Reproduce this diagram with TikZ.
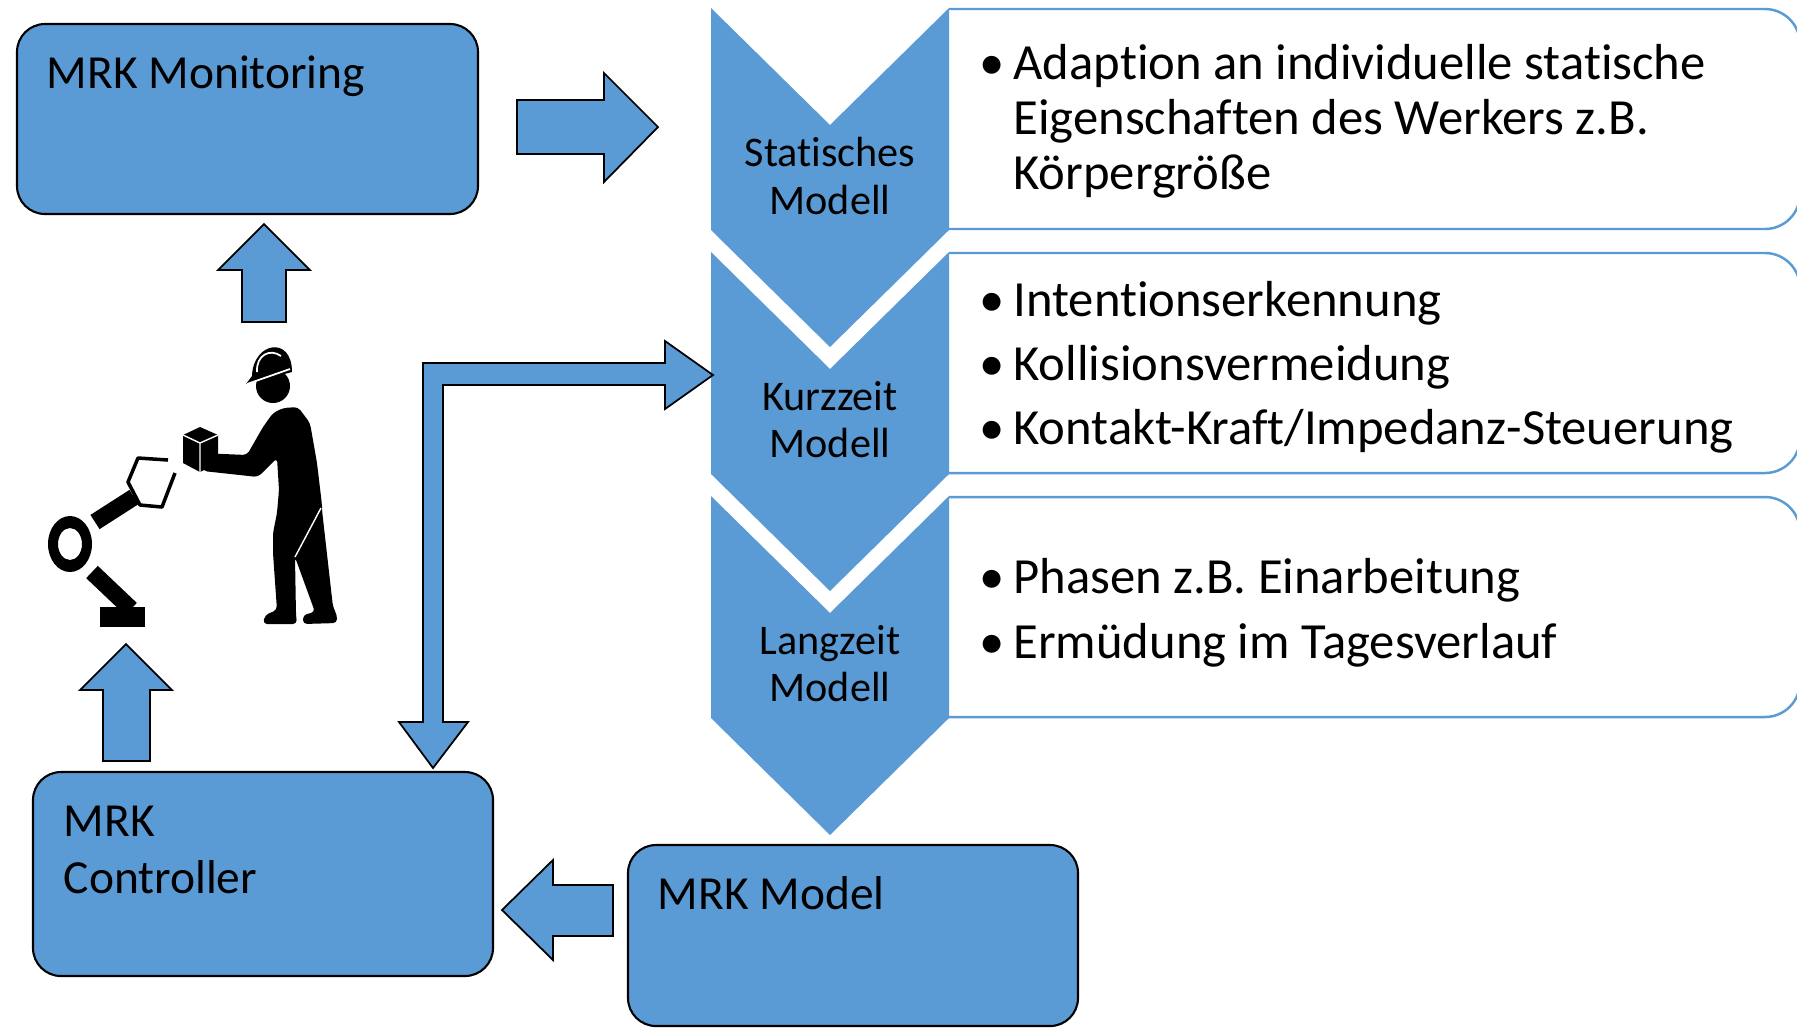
\documentclass[tikz,border=0pt]{standalone}
\usepackage{fontspec}
\setmainfont{Carlito}[Ligatures=NoCommon]
\usepackage{tikz}

\definecolor{mrkblue}{RGB}{91,155,213}
\newcommand{\bul}{\makebox[9.6pt][l]{\textbullet}}

\begin{document}
\begin{tikzpicture}[x=0.01cm, y=-0.01cm,
	panel/.style={draw=black, line width=0.6pt, fill=mrkblue, rounded corners=0.28cm},
	blockarrow/.style={draw=black, line width=0.5pt, fill=mrkblue, line join=miter},
	chevron/.style={fill=mrkblue},
	infobox/.style={draw=mrkblue, line width=0.7pt, rounded corners=0.35cm},
	title/.style={anchor=west, inner sep=0pt, align=left, font=\fontsize{13.5}{16.2}\selectfont},
	phase/.style={inner sep=0pt, align=center, font=\fontsize{12}{13.4}\selectfont},
	item/.style={anchor=west, inner sep=0pt, align=left}]
	
	\useasboundingbox (0,0) rectangle (1797,1029);
	\fill[white] (0,0) rectangle (1797,1029);
	
	% the three model phases: text box, chevron, label
	\foreach \t/\name/\lbl in {8/stat/Statisches, 252/kurz/Kurzzeit, 496/lang/Langzeit}{
		\draw[infobox] (949,\t+1) -- (1800,\t+1) -- (1800,\t+221) -- (949,\t+221);
		\fill[chevron] (711,\t) -- (830,\t+117) -- (949,\t) -- (949,\t+222) -- (830,\t+339) -- (711,\t+222) -- cycle;
		\node[phase] (\name) at (830,\t+168) {\lbl\\Modell};
	}
	
	\node[item, font=\fontsize{14.4}{15.65}\selectfont] (statlist) at (979,121) {\bul Adaption an individuelle statische\\\hspace*{9.6pt}Eigenschaften des Werkers z.B.\\\hspace*{9.6pt}Körpergröße};
	\node[item, font=\fontsize{14.4}{18.2}\selectfont] (kurzlist) at (979,367) {\bul Intentionserkennung\\\bul Kollisionsvermeidung\\\bul Kontakt-Kraft/Impedanz-Steuerung};
	\node[item, font=\fontsize{14.4}{18.5}\selectfont] (langlist) at (979,613) {\bul Phasen z.B. Einarbeitung\\\bul Ermüdung im Tagesverlauf};
	
	% MRK blocks
	\draw[panel] (17,24) rectangle (478,214);
	\node[title] (mon) at (46,76) {MRK Monitoring};
	\draw[panel] (33,772) rectangle (493,976);
	\node[title] (ctrl) at (63,850) {MRK\\Controller};
	\draw[panel] (628,845) rectangle (1078,1026);
	\node[title] (model) at (657,893) {MRK Model};
	
	% block arrows
	\draw[blockarrow] (517,100) -- (604,100) -- (604,73) -- (658,127) -- (604,182) -- (604,154) -- (517,154) -- cycle;
	\draw[blockarrow] (264,224) -- (310,270) -- (286,270) -- (286,322) -- (242,322) -- (242,270) -- (218,270) -- cycle;
	\draw[blockarrow] (126,644) -- (172,690) -- (150,690) -- (150,761) -- (103,761) -- (103,690) -- (80,690) -- cycle;
	\draw[blockarrow] (502,910) -- (553,860) -- (553,885) -- (613,885) -- (613,936) -- (553,936) -- (553,960) -- cycle;
	\draw[blockarrow] (433,768) -- (468,722) -- (443,722) -- (443,385) -- (665,385) -- (665,409) -- (713,375) -- (665,341) -- (665,363) -- (423,363) -- (423,722) -- (399,722) -- cycle;
	
	% robot arm
	\fill (100,607) rectangle (145,627);
	\draw[line width=4.8pt] (92,572) -- (131,609);
	\fill[even odd rule] (70,544) ellipse [x radius=22, y radius=28] (70,544) ellipse [x radius=12, y radius=16];
	\draw[line width=4.8pt] (95,522) -- (134,497);
	\draw[line width=1pt, line join=round] (168,460) -- (138,458) -- (128,482) -- (140,505) -- (162,507) -- (175,473);
	
	% worker with helmet
	\fill[rounded corners=0.04cm] (283,408) -- (298,407) -- (310,423) -- (317,463) -- (322,505) -- (322,510) -- (333,607) -- (337,615) -- (337,623) -- (303,624) -- (303,615) -- (315,612) -- (295,557) -- (296,615) -- (297,624) -- (263,624) -- (265,615) -- (277,610) -- (273,553) -- (273,533) -- (277,513) -- (279,490) -- (277,458) -- (258,477) -- (203,471) -- (200,453) -- (247,455) -- (263,427) -- (273,413) -- cycle;
	\draw[white, line width=0.4pt] (295,557) -- (321,508);
	\fill (273,386) circle (17);
	\fill (246,384) -- (252,376) .. controls (253,342) and (292,335) .. (292,372) -- cycle;
	\draw[white, line width=0.5pt] (247,384) -- (290,369);
	\draw[white, line width=0.5pt] (257,372) .. controls (256,355) and (270,348) .. (281,356);
	\fill (200,427) -- (218,435) -- (218,463) -- (200,472) -- (183,463) -- (183,435) -- cycle;
	\draw[white, line width=0.4pt] (183,435) -- (200,443) -- (218,435) (200,443) -- (200,472);
\end{tikzpicture}
\end{document}
